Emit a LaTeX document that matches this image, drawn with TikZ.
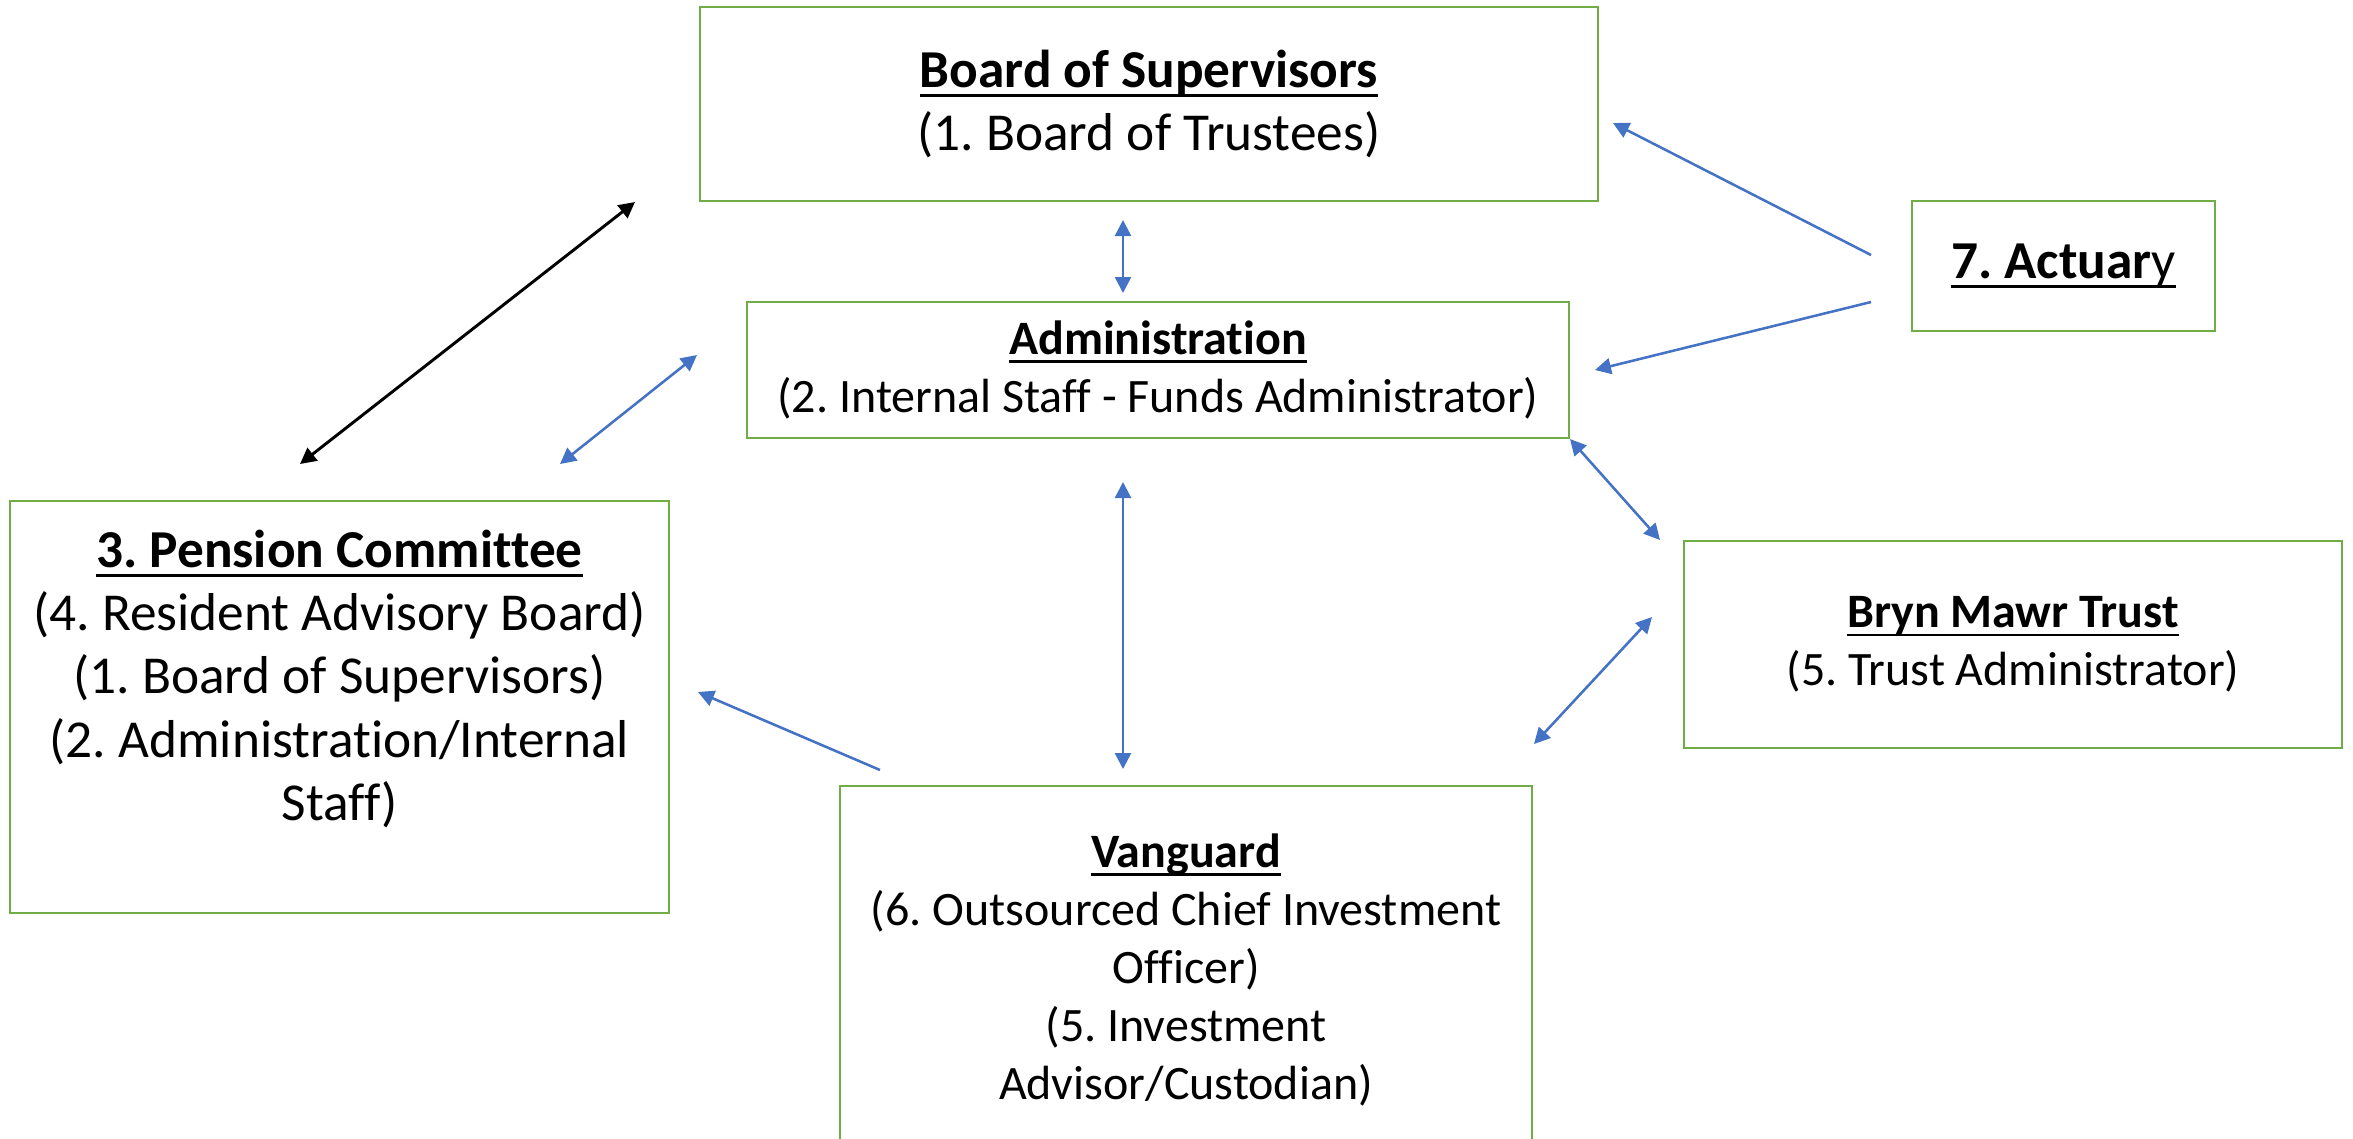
\documentclass[tikz,border=0pt]{standalone}
\usepackage{fontspec}
\setmainfont[Ligatures=NoCommon]{Carlito}
\usetikzlibrary{arrows.meta}
\frenchspacing

\definecolor{boxgreen}{HTML}{70AD47}
\definecolor{linkblue}{HTML}{4472C4}

% underline that runs through the descenders
\newsavebox\ulbox
\newcommand\uln[1]{\sbox\ulbox{#1}\rlap{\rule[-.18em]{\wd\ulbox}{.055em}}\usebox\ulbox}
\newcommand\bigsz{\fontsize{20pt}{23.8pt}\selectfont}
\newcommand\midsz{\fontsize{18pt}{21.8pt}\selectfont}

\tikzset{
  orgbox/.style={draw=boxgreen, line width=1pt, align=center, inner sep=0pt},
  bluelink/.style={draw=linkblue, line width=.95pt},
  blacklink/.style={draw=black, line width=1.1pt}
}

\begin{document}
\begin{tikzpicture}[x=0.375pt, y=-0.375pt, >={Triangle[length=6pt,width=6pt]}]
  \useasboundingbox (0,0) rectangle (2353,1138);

  \node[orgbox, minimum width=898*0.375pt, minimum height=194*0.375pt, font=\bigsz]
    (bos) at (1149,104) {\uln{\textbf{Board of Supervisors}}\\(1. Board of Trustees)};
  \node[orgbox, minimum width=822*0.375pt, minimum height=136*0.375pt, font=\midsz]
    (adm) at (1158,370) {\uln{\textbf{Administration}}\\(2. Internal Staff - Funds Administrator)};
  \node[orgbox, minimum width=303*0.375pt, minimum height=130*0.375pt, font=\bigsz]
    (act) at (2063.5,266) {\uln{\textbf{7. Actuar}y}};
  \node[orgbox, minimum width=658*0.375pt, minimum height=207*0.375pt, font=\midsz]
    (bmt) at (2013,644.5) {\uln{\textbf{Bryn Mawr Trust}}\\(5. Trust Administrator)};
  \node[orgbox, minimum width=659*0.375pt, minimum height=412*0.375pt, font=\bigsz]
    (pc) at (339.5,707) {\uln{\textbf{3. Pension Committee}}\\(4. Resident Advisory Board)\\
      (1. Board of Supervisors)\\(2. Administration/Internal\\Staff)\\\mbox{}};
  \node[orgbox, minimum width=692*0.375pt, minimum height=368*0.375pt, font=\midsz]
    (vg) at (1186,970) {\uln{\textbf{Vanguard}}\\(6. Outsourced Chief Investment\\Officer)\\
      (5. Investment\\Advisor/Custodian)};

  % arrow ends
  \coordinate (bosA) at (1123,220);
  \coordinate (admA) at (1123,293);
  \coordinate (admB) at (1123,482);
  \coordinate (vgA) at (1123,769);
  \coordinate (actA) at (1871,255);
  \coordinate (bosB) at (1613,123);
  \coordinate (actB) at (1871,302);
  \coordinate (admC) at (1595,370);
  \coordinate (admD) at (1570,439);
  \coordinate (bmtA) at (1660,540);
  \coordinate (bmtB) at (1652,617);
  \coordinate (vgB) at (1534,744);
  \coordinate (vgC) at (880,770);
  \coordinate (pcA) at (698,692);
  \coordinate (pcB) at (560,464);
  \coordinate (admE) at (697,355);
  \coordinate (pcC) at (300,464);
  \coordinate (bosC) at (635,202);

  \begin{scope}[bluelink]
    \draw[<->] (bosA) -- (admA);
    \draw[<->] (admB) -- (vgA);
    \draw[->] (actA) -- (bosB);
    \draw[->] (actB) -- (admC);
    \draw[<->] (admD) -- (bmtA);
    \draw[<->] (bmtB) -- (vgB);
    \draw[->] (vgC) -- (pcA);
    \draw[<->] (pcB) -- (admE);
  \end{scope}
  \draw[blacklink, <->] (pcC) -- (bosC);
\end{tikzpicture}
\end{document}
